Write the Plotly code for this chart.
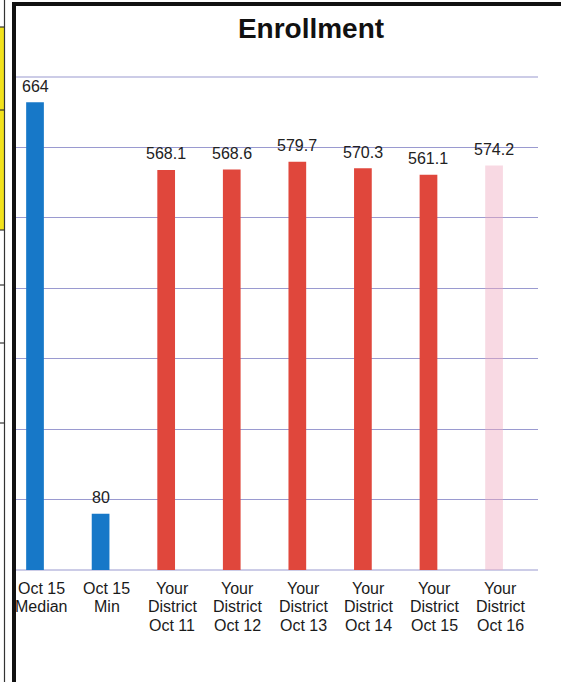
import plotly.graph_objects as go

# Enrollment figures
categories = [
    "Oct 15<br>Median", "Oct 15<br>Min",
    "Your<br>District<br>Oct 11", "Your<br>District<br>Oct 12",
    "Your<br>District<br>Oct 13", "Your<br>District<br>Oct 14",
    "Your<br>District<br>Oct 15", "Your<br>District<br>Oct 16",
]
values = [664, 80, 568.1, 568.6, 579.7, 570.3, 561.1, 574.2]
value_labels = ["664", "80", "568.1", "568.6", "579.7", "570.3", "561.1", "574.2"]
bar_colors = [
    "#1778c8", "#1778c8",
    "#e0473c", "#e0473c", "#e0473c", "#e0473c", "#e0473c",
    "rgba(240,170,192,0.45)",
]

W, H = 561, 682
L, R, T, B = 16, 538, 77, 570  # plot area in pixels
FONT = "Liberation Sans, Arial, sans-serif"


def px_x(p):
    return (p - L) / (R - L)


def px_y(p):
    return (B - p) / (B - T)


fig = go.Figure(
    go.Bar(
        x=categories,
        y=values,
        marker=dict(color=bar_colors, line=dict(width=0)),
        width=0.27,
        hoverinfo="x+y",
    )
)

annotations = []
# value labels above each bar
for cat, val, lab in zip(categories, values, value_labels):
    annotations.append(dict(
        x=cat, y=val, xref="x", yref="y", text=lab, showarrow=False,
        xanchor="center", yanchor="middle", yshift=16,
        font=dict(family=FONT, size=16, color="#222222"),
    ))
# category labels, one line at a time under the baseline
for cat in categories:
    for i, line in enumerate(cat.split("<br>")):
        annotations.append(dict(
            x=cat, y=0, xref="x", yref="paper", text=line, showarrow=False,
            xanchor="center", yanchor="middle", xshift=6,
            yshift=-(18 + 18.5 * i),
            font=dict(family=FONT, size=16, color="#1a1a1a"),
        ))

shapes = []
# document frame: heavy black top and left rules
shapes.append(dict(type="rect", xref="paper", yref="paper",
                   x0=px_x(12), x1=px_x(561), y0=px_y(6), y1=px_y(2),
                   fillcolor="#111111", line=dict(width=0), layer="above"))
shapes.append(dict(type="rect", xref="paper", yref="paper",
                   x0=px_x(12), x1=px_x(16), y0=px_y(682), y1=px_y(2),
                   fillcolor="#111111", line=dict(width=0), layer="above"))
# neighbouring table strip on the far left
shapes.append(dict(type="rect", xref="paper", yref="paper",
                   x0=px_x(0), x1=px_x(4), y0=px_y(230), y1=px_y(27),
                   fillcolor="#f2e21c", line=dict(width=0), layer="above"))
shapes.append(dict(type="line", xref="paper", yref="paper",
                   x0=px_x(4.5), x1=px_x(4.5), y0=px_y(682), y1=px_y(0),
                   line=dict(color="#333333", width=1.2), layer="above"))
for yy in [27, 110, 230, 285, 343, 423]:
    shapes.append(dict(type="line", xref="paper", yref="paper",
                       x0=px_x(0), x1=px_x(4.5), y0=px_y(yy), y1=px_y(yy),
                       line=dict(color="#333333", width=1.2), layer="above"))
# baseline and top rule of the value grid
for yp in (0, 1):
    shapes.append(dict(type="line", xref="paper", yref="paper",
                       x0=0, x1=1, y0=yp, y1=yp,
                       line=dict(color="#9a9ad0", width=1.2), layer="below"))

fig.update_layout(
    width=W, height=H,
    margin=dict(l=L, r=W - R, t=T, b=H - B),
    paper_bgcolor="white",
    plot_bgcolor="white",
    showlegend=False,
    title=dict(
        text="<b>Enrollment</b>",
        x=311 / W, xanchor="center", xref="container",
        y=1 - 28 / H, yanchor="middle", yref="container",
        font=dict(family=FONT, size=28, color="#111111"),
    ),
    xaxis=dict(
        type="category",
        range=[-0.29, 7.67],
        showgrid=False,
        showline=False,
        ticks="",
        showticklabels=False,
        fixedrange=True,
    ),
    yaxis=dict(
        range=[0, 700],
        dtick=100,
        showgrid=True,
        gridcolor="#9a9ad0",
        gridwidth=1,
        zeroline=False,
        showticklabels=False,
        showline=False,
        fixedrange=True,
    ),
    annotations=annotations,
    shapes=shapes,
)

fig.write_html("out.html")
